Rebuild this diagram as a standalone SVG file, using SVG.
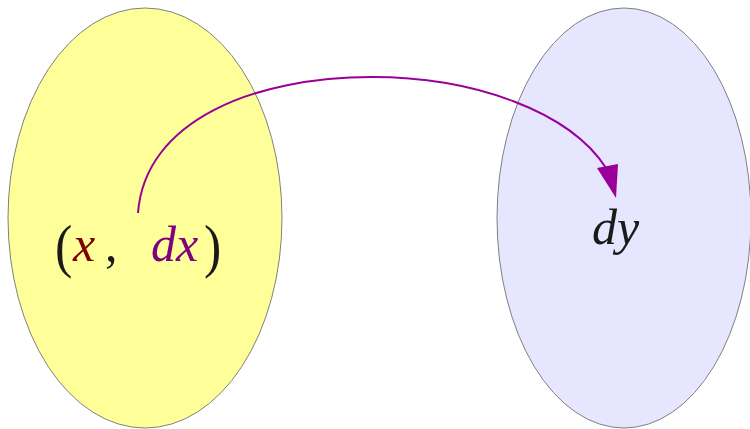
<svg xmlns="http://www.w3.org/2000/svg" width="750" height="429" viewBox="0 0 750 429">
<style>
.set{stroke:#808080;stroke-width:1}
.t{font-family:"Liberation Serif","Times New Roman",serif;font-size:50px}
.p{font-family:"DejaVu Serif","Liberation Serif",serif;font-size:50px;font-weight:normal}
.it{font-style:italic}
.conn{fill:none;stroke:#990099;stroke-width:2}
</style>
<rect width="750" height="429" fill="#ffffff"/>
<g id="domain">
<ellipse class="set" cx="145" cy="218" rx="137" ry="210" fill="#ffff99"/>
<text class="t" x="55" y="262" fill="#1a1a1a" transform="translate(0,-30) scale(1,1.12) translate(0,2)" style="font-size:52px">(</text>
<text class="t it" x="73" y="261" fill="#800000">x</text>
<text class="t" x="105" y="261" fill="#1a1a1a">,</text>
<text class="t it" x="151" y="261" fill="#800080">dx</text>
<text class="t" x="204" y="262" fill="#1a1a1a" transform="translate(0,-30) scale(1,1.12) translate(0,2)" style="font-size:52px">)</text>
</g>
<g id="codomain">
<ellipse class="set" cx="624" cy="218" rx="127" ry="210" fill="#e6e6ff"/>
<text class="t it" x="592" y="244" fill="#1a1a1a">dy</text>
</g>
<g id="connectors">
<path class="conn" d="M138,213 C145,120 255,77 372,77 C475,77 570,112 606,168"/>
<path d="M597,168 L618,164 L616,198 Z" fill="#990099"/>
</g>
</svg>
